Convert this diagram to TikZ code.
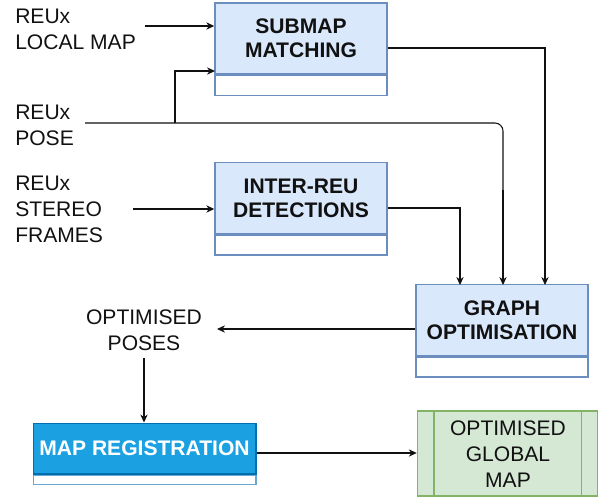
\documentclass[tikz,border=0pt]{standalone}
\usepackage{fontspec}
\setmainfont{Liberation Sans}
\usetikzlibrary{arrows.meta}
\definecolor{bluefill}{HTML}{DAE8FC}
\definecolor{bluedraw}{HTML}{6C8EBF}
\definecolor{regfill}{HTML}{1BA1E2}
\definecolor{regdraw}{HTML}{006EAF}
\definecolor{greenfill}{HTML}{D5E8D4}
\definecolor{greendraw}{HTML}{82B366}
\definecolor{ink}{HTML}{111111}
\tikzset{
  head/.style={draw=bluedraw, fill=bluefill, line width=1.1pt, minimum width=129pt, minimum height=53pt, inner sep=0pt, align=center, font=\fontsize{15.8}{18}\selectfont\bfseries, text=ink},
  foot/.style={draw=bluedraw, fill=white, line width=1.1pt, minimum width=129pt, minimum height=15pt, inner sep=0pt},
  label/.style={inner sep=0pt, align=left, font=\fontsize{15.8}{19.5}\selectfont, text=ink},
  clabel/.style={inner sep=0pt, align=center, font=\fontsize{15.8}{19.5}\selectfont, text=ink},
  arr/.style={draw=ink, line width=0.8pt, -{Stealth[length=6pt,width=5.5pt]}},
  ln/.style={draw=ink, line width=0.8pt},
}
\begin{document}
\begin{tikzpicture}[x=0.75pt,y=-0.75pt]
\useasboundingbox (0,0) rectangle (601,497);
% boxes
\node[head] (sm) at (301,38.5) {SUBMAP\\MATCHING};
\node[foot, anchor=north] (smf) at (sm.south) {};
\node[head] (ir) at (301,198) {INTER-REU\\DETECTIONS};
\node[foot, anchor=north] (irf) at (ir.south) {};
\node[head] (go) at (502,320) {GRAPH\\OPTIMISATION};
\node[foot, anchor=north] (gof) at (go.south) {};
\node[draw=regdraw, fill=regfill, line width=1pt, minimum width=167pt, minimum height=38pt, inner sep=0pt, text=white, font=\fontsize{15.8}{18}\selectfont\bfseries] (mr) at (144.5,448.5) {MAP REGISTRATION};
\node[draw=regdraw!60, fill=white, line width=1pt, minimum width=167pt, minimum height=7pt, inner sep=0pt, anchor=north] (mrf) at (mr.south) {};
\node[draw=greendraw, fill=greenfill, line width=1.1pt, minimum width=135pt, minimum height=64pt, inner sep=0pt] (gm) at (507.5,453.5) {};
\draw[greendraw, line width=1.1pt] ([xshift=13pt]gm.north west) -- ([xshift=13pt]gm.south west);
\draw[greendraw, line width=1.1pt] ([xshift=-12.5pt]gm.north east) -- ([xshift=-12.5pt]gm.south east);
\node[clabel] (gmt) at (508,454) {OPTIMISED\\GLOBAL\\MAP};
% labels
\node[label, anchor=west] (lm) at (15,29) {REUx\\LOCAL MAP};
\node[label, anchor=west] (po) at (15,125) {REUx\\POSE};
\node[label, anchor=west] (sf) at (15,209.5) {REUx\\STEREO\\FRAMES};
\node[clabel] (op) at (144,330) {OPTIMISED\\POSES};
% coordinates
\coordinate (lmS) at (145,26);
\coordinate (poS) at (85,123);
\coordinate (poB) at (175,123);
\coordinate (sfS) at (133,209);
\coordinate (opE) at (217,329);
\coordinate (opS) at (144,358);
% connectors
\draw[arr] (lmS) -- (lmS -| sm.west);
\draw[ln, rounded corners=6pt] (poS) -- (503,123) -- (503,200);
\draw[arr] (503,190) -- (503 ,285);
\draw[arr] (poB) -- (175,71) -- (215,71);
\draw[arr] (sfS) -- (sfS -| ir.west);
\draw[arr] (ir.east |- 0,208) -- (460,208) -- (460,285);
\draw[arr] (sm.east |- 0,48) -- (545,48) -- (545,285);
\draw[arr] (go.west |- 0,329) -- (opE);
\draw[arr] (opS) -- (opS |- mr.north);
\draw[arr] (mr.east |- 0,453) -- (gm.west |- 0,453);
\end{tikzpicture}
\end{document}
